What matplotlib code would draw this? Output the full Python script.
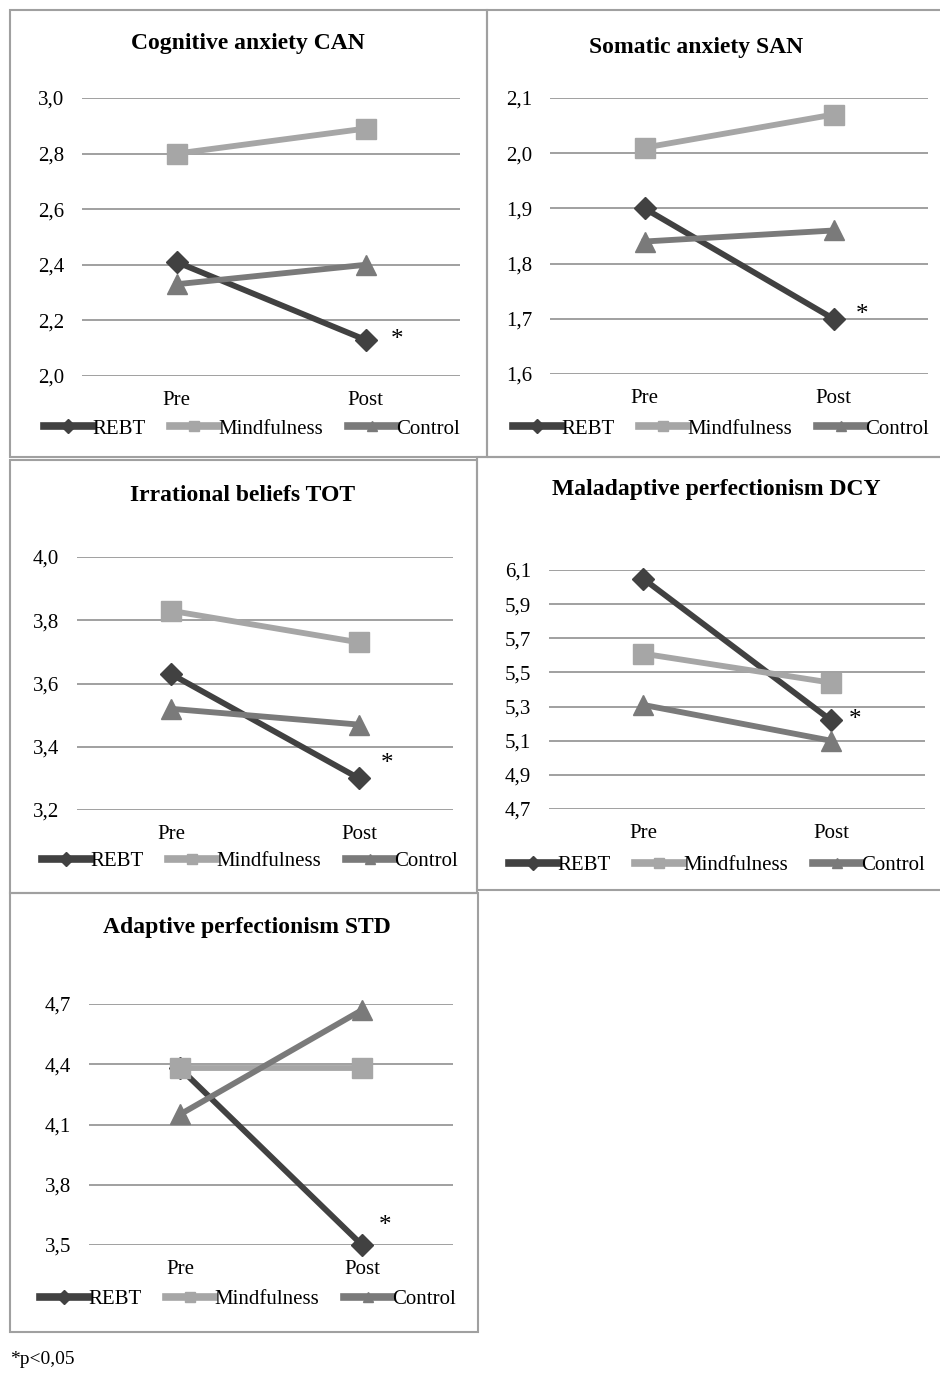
import matplotlib.pyplot as plt
from matplotlib.patches import Rectangle
from matplotlib.lines import Line2D
from matplotlib.ticker import FuncFormatter

plt.rcParams['font.family'] = ['Liberation Serif', 'DejaVu Serif']

W, H = 940, 1373

phases = ["Pre", "Post"]
groups = ["REBT", "Mindfulness", "Control"]
colors = ["#414141", "#a6a6a6", "#7a7a7a"]
markers = ["D", "s", "^"]
msizes = [11, 15, 15]

titles = ["Cognitive anxiety CAN", "Somatic anxiety SAN", "Irrational beliefs TOT",
          "Maladaptive perfectionism DCY", "Adaptive perfectionism STD"]

can_rebt = [2.41, 2.13]
can_mind = [2.80, 2.89]
can_ctrl = [2.33, 2.40]

san_rebt = [1.90, 1.70]
san_mind = [2.01, 2.07]
san_ctrl = [1.84, 1.86]

tot_rebt = [3.63, 3.30]
tot_mind = [3.83, 3.73]
tot_ctrl = [3.52, 3.47]

dcy_rebt = [6.05, 5.22]
dcy_mind = [5.61, 5.44]
dcy_ctrl = [5.31, 5.10]

std_rebt = [4.38, 3.50]
std_mind = [4.38, 4.38]
std_ctrl = [4.15, 4.67]

series = [
    [can_rebt, can_mind, can_ctrl],
    [san_rebt, san_mind, san_ctrl],
    [tot_rebt, tot_mind, tot_ctrl],
    [dcy_rebt, dcy_mind, dcy_ctrl],
    [std_rebt, std_mind, std_ctrl],
]
yticks = [
    [2.0, 2.2, 2.4, 2.6, 2.8, 3.0],
    [1.6, 1.7, 1.8, 1.9, 2.0, 2.1],
    [3.2, 3.4, 3.6, 3.8, 4.0],
    [4.7, 4.9, 5.1, 5.3, 5.5, 5.7, 5.9, 6.1],
    [3.5, 3.8, 4.1, 4.4, 4.7],
]

# pixel layout: plot area (x0, x1, ytop, ybottom), box (x0, y0, x1, y1), title pos, legend pos, star offset
plot_px = [(82, 460, 98, 376), (550, 928, 98, 374), (77, 453, 557, 810),
           (549, 925, 570, 809), (89, 453, 1004, 1245)]
box_px = [(10, 10, 487, 457), (487, 10, 945, 457), (10, 460, 477, 893),
          (477, 457, 945, 890), (10, 893, 478, 1332)]
title_px = [(248, 44), (696, 47), (243, 496), (716, 489), (247, 927)]
legend_px = [(252, 429), (721, 429), (250, 861), (717, 865), (248, 1299)]
star_off = [(18, 0), (16, 3), (16, 10), (13, 0), (12, 14)]

fig = plt.figure(figsize=(W / 100, H / 100), dpi=100)

fmt = FuncFormatter(lambda v, p: f"{v:.1f}".replace(".", ","))

for i in range(5):
    x0, x1, yt, yb = plot_px[i]
    ax = fig.add_axes([x0 / W, (H - yb) / H, (x1 - x0) / W, (yb - yt) / H])
    for vals, c, m, ms in zip(series[i], colors, markers, msizes):
        ax.plot([0, 1], vals, color=c, lw=4.2, marker=m, ms=ms, clip_on=False, zorder=3)
    ax.set_xlim(-0.5, 1.5)
    ax.set_ylim(yticks[i][0], yticks[i][-1])
    ax.set_yticks(yticks[i])
    ax.yaxis.set_major_formatter(fmt)
    ax.set_xticks([0, 1])
    ax.set_xticklabels(phases)
    ax.grid(axis="y", color="#868686", lw=1.1)
    ax.set_axisbelow(True)
    for s in ax.spines.values():
        s.set_visible(False)
    ax.tick_params(length=0, labelsize=15, colors="black")
    ax.tick_params(axis="y", pad=13)
    ax.tick_params(axis="x", pad=11)
    ax.annotate("*", (1, series[i][0][1]), xytext=star_off[i], textcoords="offset points",
                ha="left", va="center", fontsize=18)

    bx0, by0, bx1, by1 = box_px[i]
    fig.add_artist(Rectangle((bx0 / W, (H - by1) / H), (bx1 - bx0) / W, (by1 - by0) / H,
                             transform=fig.transFigure, fill=False, ec="#a0a0a0", lw=1.5))
    tx, ty = title_px[i]
    fig.text(tx / W, (H - ty) / H, titles[i], ha="center", va="center",
             fontsize=17, fontweight="bold")

    handles = [Line2D([], [], color=c, lw=5.5, marker=m, ms=7) for c, m in zip(colors, markers)]
    lx, ly = legend_px[i]
    fig.legend(handles, groups, loc="center", bbox_to_anchor=(lx / W, (H - ly) / H),
               ncol=3, frameon=False, fontsize=15, handlelength=2.3,
               handletextpad=0.0, columnspacing=1.2, borderpad=0)

fig.text(10 / W, (H - 1360) / H, "*p<0,05", ha="left", va="center", fontsize=14)

fig.savefig("out.png", dpi=100)
